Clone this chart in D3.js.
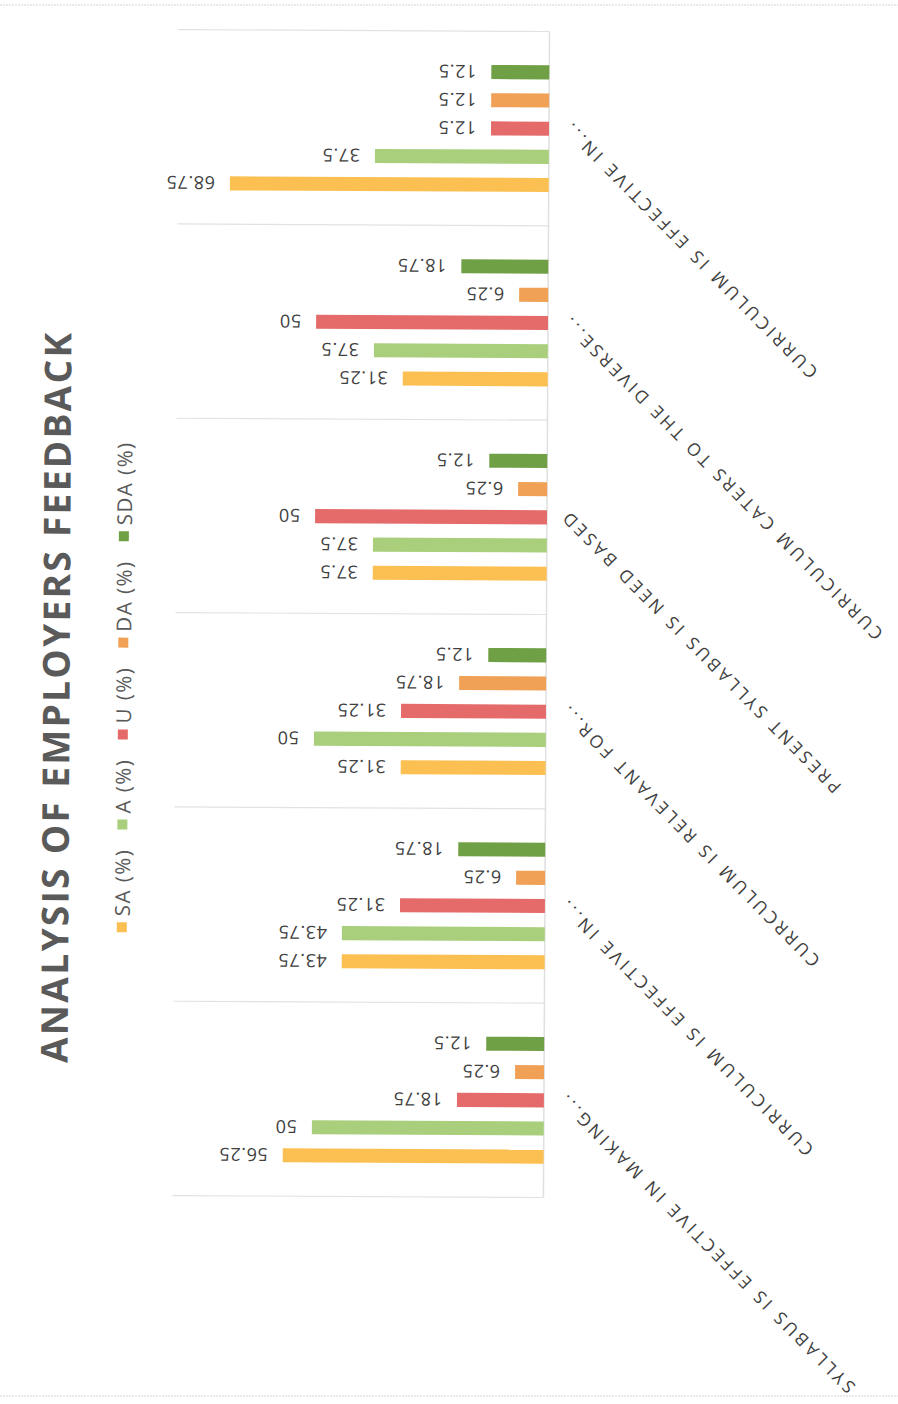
<!DOCTYPE html>
<html>
<head>
<meta charset="utf-8">
<script src="https://cdn.jsdelivr.net/npm/d3@7"></script>
<style>
  body { margin: 0; background: #fff; }
  text { font-family: "Open Sans", sans-serif; }
</style>
</head>
<body>
<div id="chart"></div>
<script>
// chart data (first category is drawn at the bottom of the page)
const categories = [
  "SYLLABUS IS EFFECTIVE IN MAKING...",
  "CURRICULUM IS EFFECTIVE IN...",
  "CURRCULUM IS RELEVANT FOR...",
  "PRESENT SYLLABUS IS NEED BASED",
  "CURRICULUM CATERS TO THE DIVERSE...",
  "CURRICULUM IS EFFECTIVE IN..."
];
const seriesNames = ["SA (%)", "A (%)", "U (%)", "DA (%)", "SDA (%)"];
const saValues  = [56.25, 43.75, 31.25, 37.5, 31.25, 68.75];
const aValues   = [50, 43.75, 50, 37.5, 37.5, 37.5];
const uValues   = [18.75, 31.25, 31.25, 50, 50, 12.5];
const daValues  = [6.25, 6.25, 18.75, 6.25, 6.25, 12.5];
const sdaValues = [12.5, 18.75, 12.5, 12.5, 18.75, 12.5];
const seriesColors = ["#fcc052", "#a9cf7c", "#e56b6b", "#f0a155", "#70a045"];
const titleText = "ANALYSIS OF EMPLOYERS FEEDBACK";

const series = [saValues, aValues, uValues, daValues, sdaValues].map((values, i) => ({
  name: seriesNames[i], values: values, color: seriesColors[i]
}));

const width = 898;
const height = 1404;

const svg = d3.select("#chart")
  .append("svg")
  .attr("width", width)
  .attr("height", height);

svg.append("rect").attr("width", width).attr("height", height).attr("fill", "#fff");

// faint scan edges
svg.selectAll(".edge")
  .data([5, 1396])
  .join("line")
  .attr("x1", 0).attr("x2", width)
  .attr("y1", d => d).attr("y2", d => d)
  .attr("stroke", "#d4d4d4")
  .attr("stroke-dasharray", "2,1");

// the scanned page is slightly tilted
const chart = svg.append("g").attr("transform", "rotate(0.3, 449, 702)");

// scales (chart is turned on its side: bars grow to the left)
const y = d3.scaleBand().domain(d3.range(categories.length)).range([1197, 31]);
const yInner = d3.scaleBand().domain(seriesNames).range([y.bandwidth(), 0])
  .paddingInner(0.5).paddingOuter(1.2);
const x = d3.scaleLinear().domain([0, 80]).range([546, 175]);

// category separators
const bounds = d3.range(categories.length).map(i => y(i)).concat([y(0) + y.bandwidth()]);
chart.append("g")
  .selectAll("line")
  .data(bounds)
  .join("line")
  .attr("x1", x(80)).attr("x2", x(0))
  .attr("y1", d => d).attr("y2", d => d)
  .attr("stroke", "#e2e2e2")
  .attr("stroke-width", 1.2);

// axis line
chart.append("line")
  .attr("x1", x(0)).attr("x2", x(0))
  .attr("y1", d3.min(bounds)).attr("y2", d3.max(bounds))
  .attr("stroke", "#e0e0e0")
  .attr("stroke-width", 1.5);

// bars
const groups = chart.append("g")
  .selectAll("g")
  .data(series)
  .join("g")
  .attr("fill", d => d.color);

groups.selectAll("rect")
  .data(d => d.values.map((v, i) => ({ v: v, i: i, name: d.name })))
  .join("rect")
  .attr("x", d => x(d.v))
  .attr("y", d => y(d.i) + yInner(d.name))
  .attr("width", d => x(0) - x(d.v))
  .attr("height", yInner.bandwidth());

// value labels (upside down like the scan)
groups.selectAll("text")
  .data(d => d.values.map((v, i) => ({ v: v, i: i, name: d.name })))
  .join("text")
  .attr("transform", d => `translate(${x(d.v) - 15},${y(d.i) + yInner(d.name) + yInner.bandwidth() / 2}) rotate(180)`)
  .attr("text-anchor", "start")
  .attr("dominant-baseline", "central")
  .attr("font-size", 18)
  .attr("letter-spacing", 0.6)
  .attr("fill", "#404040")
  .text(d => d.v);

// category labels
chart.append("g")
  .selectAll("text")
  .data(categories)
  .join("text")
  .attr("transform", (d, i) => `translate(${x(0) + 16},${y(i) + y.bandwidth() / 2 - 4}) rotate(-135)`)
  .attr("text-anchor", "end")
  .attr("dominant-baseline", "central")
  .attr("font-size", 17.5)
  .attr("letter-spacing", 3.4)
  .attr("fill", "#404040")
  .text(d => d);

// title
chart.append("text")
  .attr("transform", "translate(55,700) rotate(-90)")
  .attr("text-anchor", "middle")
  .attr("dominant-baseline", "central")
  .attr("font-size", 37)
  .attr("font-weight", "bold")
  .attr("fill", "#5a5a5a")
  .attr("textLength", 730)
  .attr("lengthAdjust", "spacing")
  .text(titleText);

// legend, laid out bottom to top
const legend = chart.append("g");
const legendTop = 443, legendBottom = 934, sq = 10, sqGap = 6, legendX = 123;
const items = legend.selectAll("g")
  .data(series)
  .join("g");
items.append("rect")
  .attr("width", sq).attr("height", sq)
  .attr("fill", d => d.color);
items.append("text")
  .attr("dominant-baseline", "central")
  .attr("font-size", 20.5)
  .attr("letter-spacing", 1.5)
  .attr("fill", "#595959")
  .text(d => d.name);
const lens = [];
items.select("text").each(function () { lens.push(this.getComputedTextLength()); });
const used = d3.sum(lens) + series.length * (sq + sqGap);
const between = (legendBottom - legendTop - used) / (series.length - 1);
let pos = legendBottom;
items.each(function (d, i) {
  const g = d3.select(this);
  g.select("rect").attr("x", legendX - sq / 2).attr("y", pos - sq);
  g.select("text").attr("transform", `translate(${legendX},${pos - sq - sqGap}) rotate(-90)`);
  pos -= sq + sqGap + lens[i] + between;
});
</script>
</body>
</html>
